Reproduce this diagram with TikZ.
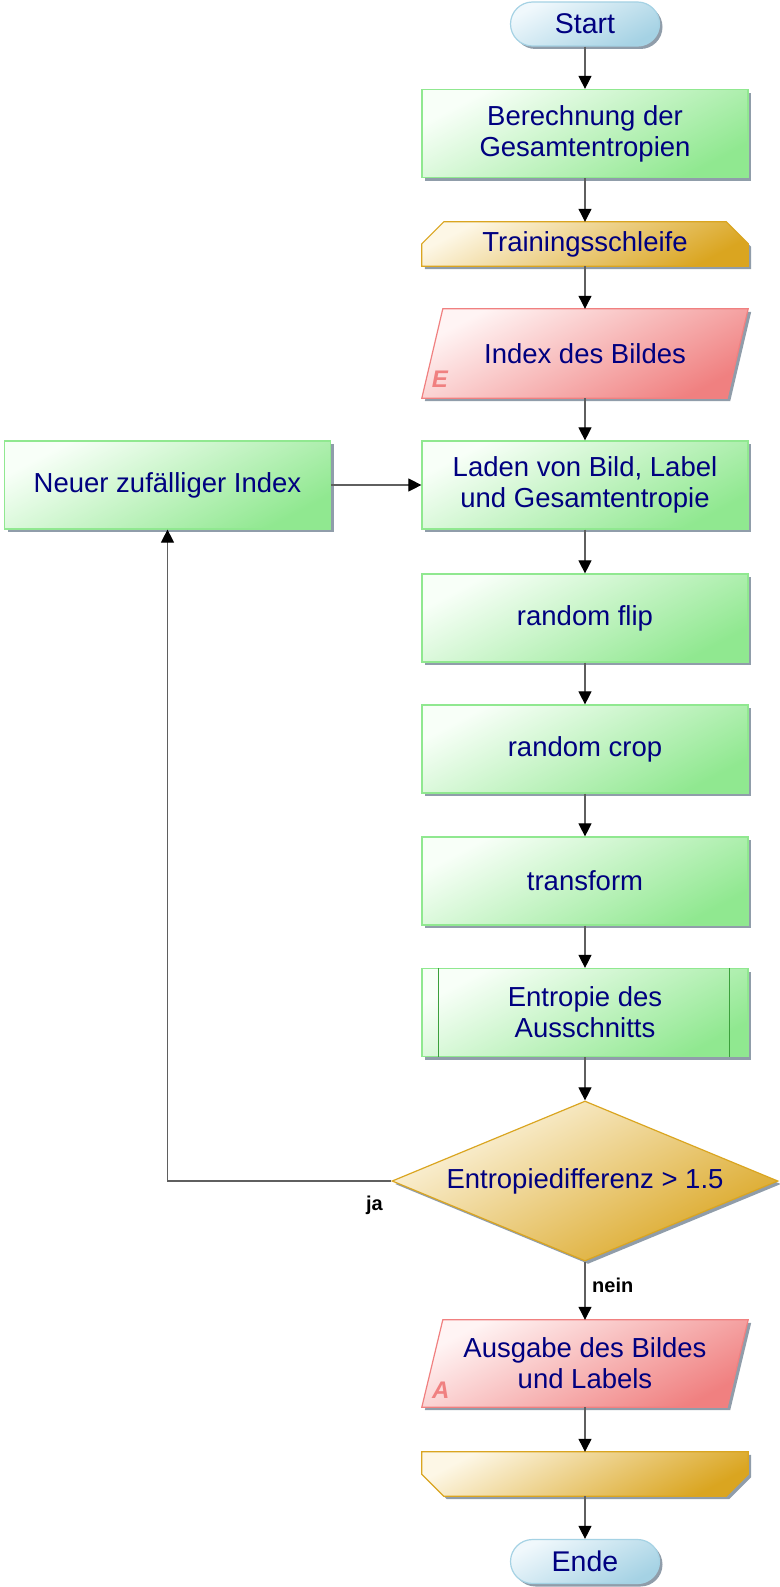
\documentclass[tikz,border=0pt]{standalone}
\usepackage{fontspec}
\setmainfont{Liberation Sans}
\usetikzlibrary{arrows.meta,shapes.geometric,shadows,backgrounds}
\definecolor{figNavy}{RGB}{0,0,128}
\definecolor{figGreen}{RGB}{144,232,144}
\definecolor{figGreenL}{RGB}{248,255,248}
\definecolor{figGreenD}{RGB}{60,160,60}
\definecolor{figBlue}{RGB}{165,210,228}
\definecolor{figBlueL}{RGB}{240,248,252}
\definecolor{figGold}{RGB}{218,165,32}
\definecolor{figGoldL}{RGB}{253,247,230}
\definecolor{figRed}{RGB}{240,128,128}
\definecolor{figRedL}{RGB}{255,244,244}
\definecolor{figLine}{RGB}{95,95,95}
\definecolor{figShadow}{RGB}{125,140,155}
\tikzset{
  txt/.style={font=\fontsize{27.5}{31}\selectfont, text=figNavy, align=center, inner sep=0pt},
  shadowed/.style={drop shadow={shadow xshift=3pt,shadow yshift=-3pt,fill=figShadow,opacity=0.85}},
  procbox/.style={txt, rectangle, draw=figGreen, line width=1.2pt, top color=figGreenL, bottom color=figGreen, shading angle=28, minimum width=326pt, minimum height=88pt, shadowed},
  termbox/.style={txt, font=\fontsize{28.5}{31}\selectfont, rectangle, rounded corners=22pt, draw=figBlue, line width=1.2pt, top color=figBlueL, bottom color=figBlue, shading angle=28, minimum width=149pt, minimum height=44pt, shadowed},
  decbox/.style={txt, diamond, aspect=2.41, draw=figGold, line width=1.2pt, top color=figGoldL, bottom color=figGold, shading angle=28, minimum width=386pt, minimum height=160pt, shadowed},
  plainbox/.style={txt, rectangle, minimum width=326pt, minimum height=#1},
  loopfill/.style={draw=figGold, line width=1.2pt, top color=figGoldL, bottom color=figGold, shading angle=28, shadowed},
  iofill/.style={draw=figRed, line width=1.2pt, top color=figRedL, bottom color=figRed, shading angle=28, shadowed},
  iomark/.style={font=\fontsize{24}{24}\selectfont\bfseries\itshape, text=figRed, inner sep=0pt},
  lbl/.style={font=\fontsize{20}{20}\selectfont\bfseries, text=black, inner sep=0pt},
  conn/.style={draw=figLine, line width=1.1pt, -{Triangle[length=13pt,width=13pt,color=black]}}
}
\begin{document}
\begin{tikzpicture}[x=1pt,y=-1pt]
\useasboundingbox (0,0) rectangle (779,1587);
% main column
\node[termbox] (start) at (585,24) {Start};
\node[procbox] (calc) at (585,133.5) {Berechnung der\\Gesamtentropien};
\node[plainbox=44pt] (tsl) at (585,244) {Trainingsschleife};
\node[plainbox=89pt] (idx) at (585,353.5) {Index des Bildes};
\node[procbox] (load) at (585,485) {Laden von Bild, Label\\und Gesamtentropie};
\node[procbox] (neu) at (167.5,485) {Neuer zuf\"alliger Index};
\node[procbox] (flip) at (585,618) {random flip};
\node[procbox] (crop) at (585,749) {random crop};
\node[procbox] (trans) at (585,881) {transform};
\node[procbox] (ent) at (585,1012.5) {Entropie des\\Ausschnitts};
\node[decbox] (dec) at (585,1181) {Entropiedifferenz > 1.5};
\node[plainbox=87pt] (out) at (585,1363.5) {Ausgabe des Bildes\\und Labels};
\node[plainbox=44pt] (lend) at (585,1474) {};
\node[termbox] (ende) at (585,1561.5) {Ende};
% loop, input and output outlines
\begin{scope}[on background layer]
\path[loopfill] ([xshift=22pt]tsl.north west) -- ([xshift=-22pt]tsl.north east) -- ([yshift=-22pt]tsl.north east) -- (tsl.south east) -- (tsl.south west) -- ([yshift=-22pt]tsl.north west) -- cycle;
\path[loopfill] (lend.north west) -- (lend.north east) -- ([yshift=22pt]lend.south east) -- ([xshift=-22pt]lend.south east) -- ([xshift=22pt]lend.south west) -- ([yshift=22pt]lend.south west) -- cycle;
\path[iofill] ([xshift=21pt]idx.north west) -- (idx.north east) -- ([xshift=-21pt]idx.south east) -- (idx.south west) -- cycle;
\path[iofill] ([xshift=21pt]out.north west) -- (out.north east) -- ([xshift=-21pt]out.south east) -- (out.south west) -- cycle;
\end{scope}
\node[iomark] (mE) at ([xshift=18pt,yshift=19pt]idx.south west) {E};
\node[iomark] (mA) at ([xshift=19pt,yshift=17pt]out.south west) {A};
% subroutine bars
\draw[figGreenD,line width=1.2pt] ([xshift=17pt]ent.north west) -- ([xshift=17pt]ent.south west);
\draw[figGreenD,line width=1.2pt] ([xshift=-19pt]ent.north east) -- ([xshift=-19pt]ent.south east);
% connectors
\draw[conn] (start) -- (calc);
\draw[conn] (calc) -- (tsl);
\draw[conn] (tsl) -- (idx);
\draw[conn] (idx) -- (load);
\draw[conn] (load) -- (flip);
\draw[conn] (flip) -- (crop);
\draw[conn] (crop) -- (trans);
\draw[conn] (trans) -- (ent);
\draw[conn] (ent) -- (dec);
\draw[conn] (dec) -- (out);
\draw[conn] (out) -- (lend);
\draw[conn] (lend) -- (ende);
\draw[conn] (neu) -- (load);
\draw[conn] (dec.west) -| (neu.south);
\node[lbl] (ja) at ([xshift=-17pt,yshift=-24pt]dec.west) {ja};
\node[lbl,anchor=west] (nein) at ([xshift=7pt,yshift=-24pt]dec.south) {nein};
\end{tikzpicture}
\end{document}
